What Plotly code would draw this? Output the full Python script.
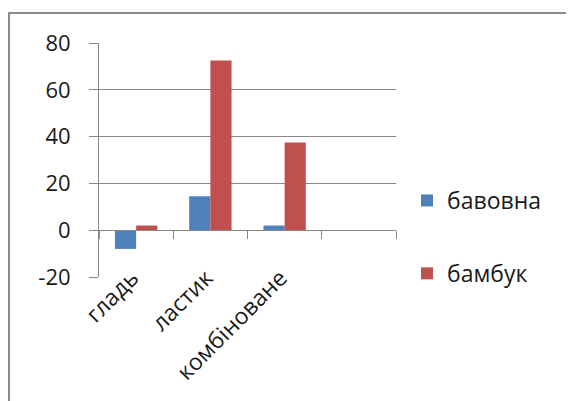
import plotly.graph_objects as go

categories = ["гладь", "ластик", "комбіноване", " "]
cotton = [-8, 14.5, 2, None]
bamboo = [2, 72.5, 37.5, None]
series_names = ["бавовна", "бамбук"]
y_ticks = [-20, 0, 20, 40, 60, 80]
y_tick_labels = ["-20", "0", "20", "40", "60", "80"]

OFF = 8  # page body margin in the browser
W, H = 574, 401
L, T = 99 - OFF, 43 - OFF
pw, ph = 297, 234
R, B = W - L - pw, H - T - ph

def px_x(x):
    return (x - OFF - L) / pw

def px_y(y):
    return (T + ph - (y - OFF)) / ph

grey = "#878787"
font = dict(family="Open Sans", size=22, color="#1a1a1a")
cat_font = dict(family="Open Sans", size=23, color="#1a1a1a")

fig = go.Figure()
fig.add_trace(go.Bar(x=categories, y=cotton, name=series_names[0],
                     marker=dict(color="#4F81BD", line=dict(width=0)),
                     legendgroup="a"))
fig.add_trace(go.Bar(x=categories, y=bamboo, name=series_names[1],
                     marker=dict(color="#C0504D", line=dict(width=0)),
                     legendgroup="b"))

ymin, ymax = y_ticks[0], y_ticks[-1]
zero_pos = (0 - ymin) / (ymax - ymin)

fig.update_layout(
    width=W, height=H,
    margin=dict(l=L, r=R, t=T, b=B, pad=0, autoexpand=False),
    paper_bgcolor="white", plot_bgcolor="white",
    font=font,
    barmode="group", bargap=0.43, bargroupgap=0,
    showlegend=True,
    legend=dict(x=px_x(407), y=px_y(179), xanchor="left", yanchor="top",
                font=cat_font, tracegroupgap=40, bgcolor="rgba(0,0,0,0)",
                itemwidth=30),
    xaxis=dict(type="category", categoryorder="array", categoryarray=categories,
               tickmode="array", tickvals=categories,
               ticktext=[c + "\u00a0" for c in categories],
               range=[-0.5, 3.5], anchor="free", position=zero_pos,
               showline=True, linecolor=grey, linewidth=1,
               ticks="outside", tickson="boundaries", ticklen=8,
               tickcolor=grey, tickwidth=1, showgrid=False, automargin=False,
               tickangle=-45, ticklabelstandoff=20, tickfont=cat_font),
    yaxis=dict(range=[ymin, ymax], tickvals=y_ticks, ticktext=y_tick_labels,
               showgrid=True, automargin=False,
               gridcolor=grey, gridwidth=1, zeroline=False,
               showline=True, linecolor=grey, linewidth=1,
               ticks="outside", ticklen=9, tickcolor=grey, tickwidth=1,
               ticklabelstandoff=14, tickfont=font),
    shapes=[dict(type="rect", xref="paper", yref="paper",
                 x0=px_x(9), x1=px_x(600), y0=px_y(430), y1=px_y(13),
                 line=dict(color="#8c8c8c", width=2), layer="below")],
)

fig.write_html("out.html")
